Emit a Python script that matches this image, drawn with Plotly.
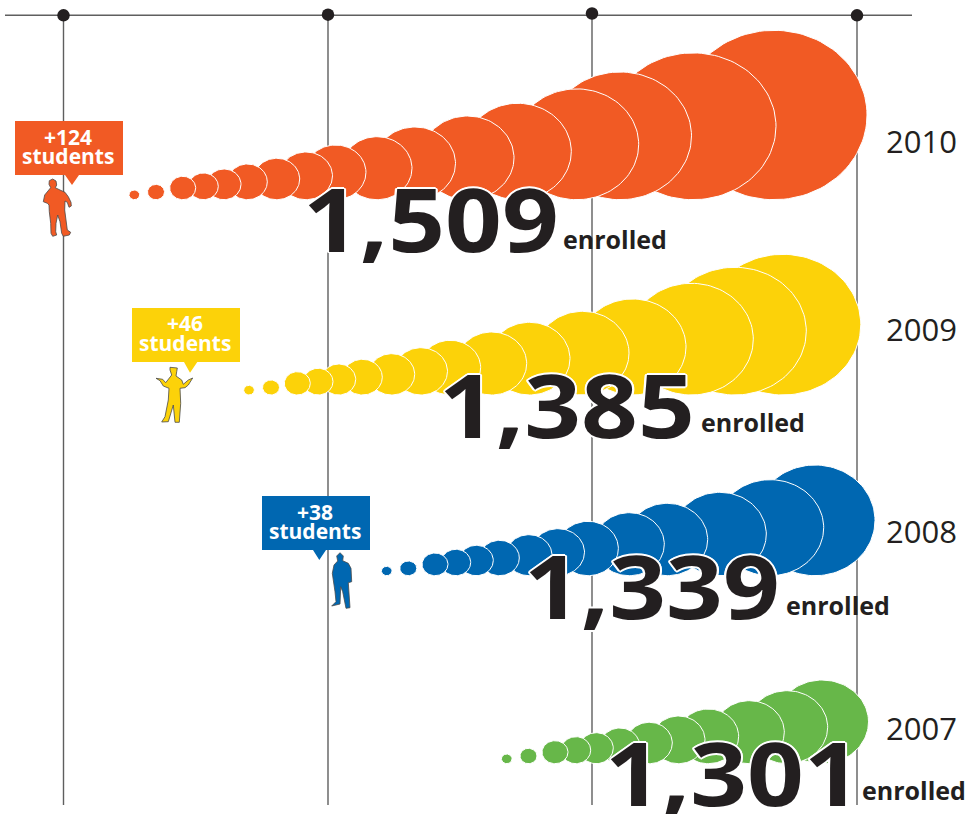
import numpy as np
import plotly.graph_objects as go

years = ["2010", "2009", "2008", "2007"]
enrolled = ["1,509", "1,385", "1,339", "1,301"]
gains = ["+124", "+46", "+38", ""]

widths_2010 = [10.7, 17, 26, 29.6, 34, 39.6, 46, 53, 60.7, 70, 81, 93, 107, 124, 143, 166, 186]
heights_2010 = [9.7, 15.3, 23.4, 26.7, 30.7, 35.7, 41.4, 47.7, 54.7, 63, 72.7, 83.7, 96.4, 110.8, 127.7, 146.8, 169.4]
centers_2010 = [134.3, 156, 182.7, 203.5, 224, 247.5, 276.7, 306, 335.6, 377, 415, 467.5, 517.8, 576.7, 620, 693, 774]

widths_2009 = [10.7, 17, 26, 29.6, 34, 39.6, 46, 53, 60.7, 70, 81, 93, 107, 124, 143, 156]
heights_2009 = [9.7, 15, 23.3, 26.7, 31, 35.7, 41.3, 47.3, 54.7, 63, 72.7, 83.7, 96, 111.7, 127.7, 140.7]
centers_2009 = [249, 271, 297.3, 318.2, 338.7, 362.5, 391.7, 421, 450.3, 491.7, 529.5, 582.5, 632.5, 691.3, 734.8, 782.8]

widths_2008 = [10.7, 17, 26, 29.6, 34, 39.6, 46, 53, 60.7, 70, 81, 93, 107, 120]
heights_2008 = [9.4, 14.7, 22.7, 26.4, 30.4, 35.4, 41, 47, 54.4, 63, 72.4, 83.4, 96, 110.7]
centers_2008 = [386.7, 408.3, 435, 455.9, 476.3, 499.5, 529, 558, 588, 629.3, 667.2, 719.8, 770.2, 815]

widths_2007 = [10.7, 17, 26, 29.6, 34, 39.6, 46, 53, 60.7, 70, 81, 93]
heights_2007 = [9.7, 15.4, 23, 27, 31, 35.7, 41.4, 47.7, 54.7, 63, 73, 83.7]
centers_2007 = [506.7, 528.5, 555, 575.9, 596.3, 619.9, 649.3, 678.5, 708.3, 749.3, 787.2, 822]

bubble_bottoms = [199.7, 395, 575.7, 763.7]
colors = ["#F15A24", "#FCD209", "#0067B1", "#67B749"]
INK = "#231F20"
RULE = "#5F5F5F"

axis_x = [63.5, 328, 592, 857]
axis_dot_y = [15.3, 14.7, 13.5, 15.3]

person_2010_x = [52.7, 56, 56.7, 55.3, 60, 65, 68.3, 71, 71.3, 69, 67.3, 65, 64.7, 66, 67.3, 70.7, 69.3, 63.3, 61.7, 60, 57.7, 56, 55.7, 56.7, 52.7, 51, 50.7, 49.3, 49, 47.3, 43.3, 44.7, 48.3, 50.7, 49, 49.3]
person_2010_y = [179, 181, 185, 187.7, 190, 192.3, 196.7, 202.3, 206, 207.3, 202.3, 201, 210, 218.3, 230, 232.3, 235, 236.3, 233.3, 221.7, 215, 223.3, 231.7, 235, 236.3, 233.3, 223.3, 211.7, 205, 203.3, 201.7, 195, 190, 187.7, 184.3, 180.7]
person_2009_x = [170, 177.3, 176.7, 176, 181.7, 183.3, 188.3, 192.7, 188.3, 185, 180, 180.7, 179.3, 175, 173.3, 168.3, 161.7, 165, 168.3, 169, 163.3, 160, 156, 162.7, 165.7, 170, 171.7, 170]
person_2009_y = [367.3, 368, 371.7, 376, 380, 384.3, 380, 378, 385, 387.7, 388.3, 403.3, 422.3, 422.3, 405, 421.7, 422, 416.7, 400, 388.3, 386, 380.7, 378.3, 379.3, 382.7, 377.3, 375, 370]
person_2008_x = [340, 343.3, 342.7, 348.3, 351, 351.7, 348.3, 349, 350, 346, 342.7, 340.7, 340, 331.7, 336, 335, 333.3, 332.3, 334, 337.7, 336.7]
person_2008_y = [552.7, 556, 560.7, 563.3, 568.3, 581.7, 582.7, 596.7, 607.7, 608.3, 591.7, 586.7, 604, 606, 601.7, 591.7, 581.7, 573.3, 565, 561, 556]

callout_2010_x = [15, 123, 123, 79, 72, 65, 15, 15]
callout_2010_y = [121, 121, 175, 175, 185, 175, 175, 121]
callout_2009_x = [132, 240, 240, 197.3, 190, 184, 132, 132]
callout_2009_y = [308, 308, 362, 362, 372.7, 362, 362, 308]
callout_2008_x = [262, 370, 370, 326, 319.3, 313, 262, 262]
callout_2008_y = [496, 496, 550, 550, 560, 550, 550, 496]

big_left = [301, 437, 522, 603]
big_mid = [217.5, 403.5, 585, 772.2]
word_left = [560.5, 699, 783.5, 860]
word_mid = [239, 422, 605, 790]
year_mid = [140.5, 329, 530.5, 727.5]
gain_x = [68, 185, 314.7]
gain_y = [136.7, 322.7, 511.7]
students_y = [155.7, 342.7, 530.7]

fig = go.Figure()

fig.add_trace(go.Scatter(x=[5, 912], y=[15.3, 15.3], mode="lines", line=dict(color=RULE, width=1.4), hoverinfo="skip"))
for x in axis_x:
    fig.add_trace(go.Scatter(x=[x, x], y=[15, 805], mode="lines", line=dict(color=RULE, width=1.4), hoverinfo="skip"))
fig.add_trace(go.Scatter(x=axis_x, y=axis_dot_y, mode="markers",
                         marker=dict(size=12.5, color=INK), hoverinfo="skip"))

t = np.linspace(0, 2 * np.pi, 121)
series = [
    (widths_2010, heights_2010, centers_2010),
    (widths_2009, heights_2009, centers_2009),
    (widths_2008, heights_2008, centers_2008),
    (widths_2007, heights_2007, centers_2007),
]
for (ws, hs, cs), bottom, color, year in zip(series, bubble_bottoms, colors, years):
    for w, h, c in reversed(list(zip(ws, hs, cs))):
        fig.add_trace(go.Scatter(
            x=c + w / 2 * np.cos(t), y=bottom - h / 2 + h / 2 * np.sin(t),
            mode="lines", fill="toself", fillcolor=color,
            line=dict(color="white", width=1), name=year, hoverinfo="skip"))

for xs, ys, color in [(callout_2010_x, callout_2010_y, colors[0]),
                      (callout_2009_x, callout_2009_y, colors[1]),
                      (callout_2008_x, callout_2008_y, colors[2])]:
    fig.add_trace(go.Scatter(x=xs, y=ys, mode="lines", fill="toself", fillcolor=color,
                             line=dict(width=0, color=color), hoverinfo="skip"))
for xs, ys, color in [(person_2010_x, person_2010_y, colors[0]),
                      (person_2009_x, person_2009_y, colors[1]),
                      (person_2008_x, person_2008_y, colors[2])]:
    fig.add_trace(go.Scatter(x=xs + xs[:1], y=ys + ys[:1], mode="lines", fill="toself", fillcolor=color,
                             line=dict(width=0.8, color="#4A4A4A"), hoverinfo="skip"))

HALO = ", ".join(f"{a}px {b}px 0 #fff" for a, b in
                 [(2, 0), (-2, 0), (0, 2), (0, -2), (1.5, 1.5), (-1.5, 1.5), (1.5, -1.5), (-1.5, -1.5)])
BODY = "Open Sans"
ann = []
for i in range(4):
    ann.append(dict(x=big_left[i], y=big_mid[i], text=f"<b>{enrolled[i]}</b>", xanchor="left", yanchor="middle",
                    showarrow=False, font=dict(family=BODY, size=88, color=INK, shadow=HALO)))
    ann.append(dict(x=word_left[i], y=word_mid[i], text="<b>enrolled</b>", xanchor="left", yanchor="middle",
                    showarrow=False, font=dict(family=BODY, size=25, color=INK)))
    ann.append(dict(x=883.5, y=year_mid[i], text=years[i], xanchor="left", yanchor="middle",
                    showarrow=False, font=dict(family=BODY, size=31, color=INK)))
for i in range(3):
    ann.append(dict(x=gain_x[i], y=gain_y[i], text=f"<b>{gains[i]}</b>", xanchor="center", yanchor="middle",
                    showarrow=False, font=dict(family=BODY, size=21, color="white")))
    ann.append(dict(x=gain_x[i], y=students_y[i], text="<b>students</b>", xanchor="center", yanchor="middle",
                    showarrow=False, font=dict(family=BODY, size=21, color="white")))

fig.update_layout(
    width=965, height=814, margin=dict(l=0, r=0, t=0, b=0),
    paper_bgcolor="white", plot_bgcolor="white", showlegend=False,
    xaxis=dict(range=[0, 965], visible=False, fixedrange=True),
    yaxis=dict(range=[814, 0], visible=False, fixedrange=True),
    annotations=ann,
)
STRETCH = """
document.body.style.margin='0';
document.querySelectorAll('.annotation-text').forEach(function (el) {
  if (parseFloat(el.style.fontSize) >= 80) {
    el.style.transformBox = 'fill-box';
    el.style.transformOrigin = 'left center';
    el.style.transform = 'scaleX(1.13)';
  }
});
"""
fig.write_html("out.html", config={"displayModeBar": False}, post_script=STRETCH)
